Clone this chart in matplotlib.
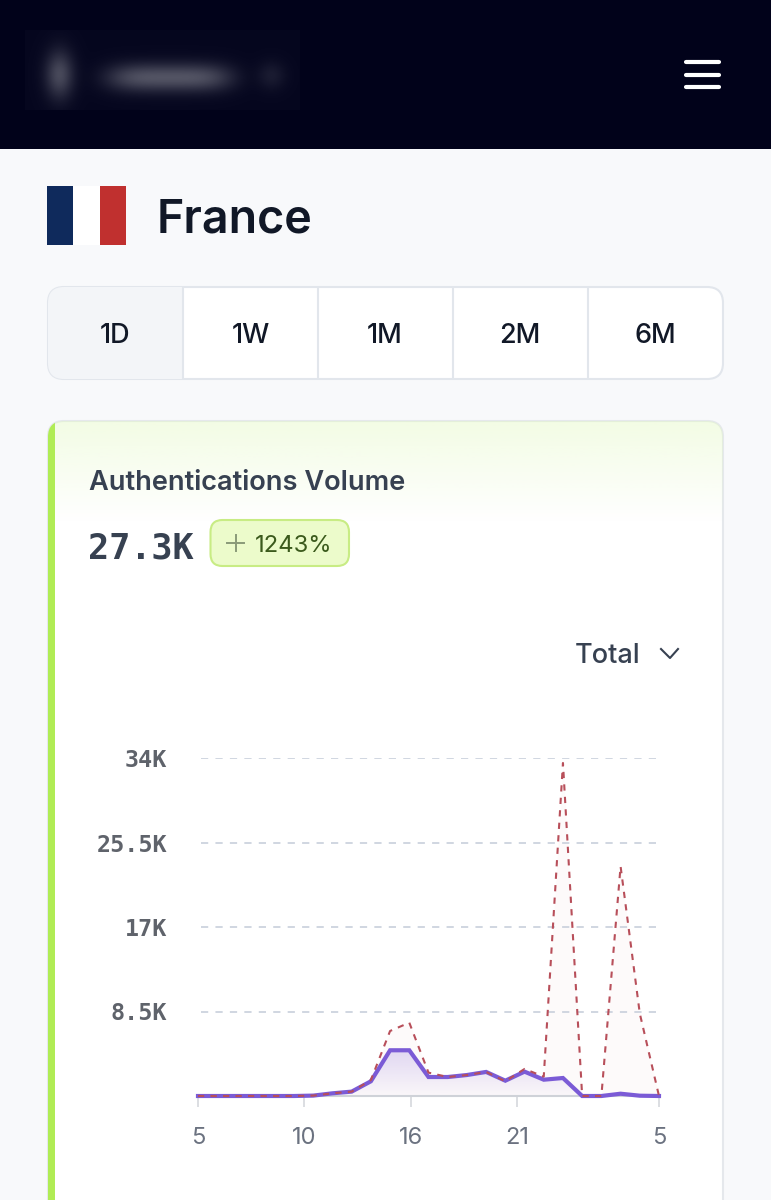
import numpy as np
import matplotlib
matplotlib.use('Agg')
import matplotlib.pyplot as plt
from matplotlib.patches import FancyBboxPatch, Rectangle

plt.rcParams['font.family'] = ['Inter', 'DejaVu Sans']

# values, one point per hour
authentications = [0, 0, 0, 0, 0, 0, 40, 270, 440, 1480, 4600, 4600, 1910, 1910, 2110, 2420,
                   1540, 2450, 1640, 1810, 0, 0, 230, 30, 0]
previous = [0, 0, 0, 0, 0, 0, 40, 270, 440, 1600, 6540, 7380, 2350, 1910, 2110, 2420,
            1480, 2720, 1950, 33500, 0, 0, 23100, 8300, 0]
y_ticks = [8500, 17000, 25500, 34000]
y_labels = ['8.5K', '17K', '25.5K', '34K']
x_ticks = [0, 5.54, 11.08, 16.62, 24]
x_labels = ['5', '10', '16', '21', '5']
tabs = ['1D', '1W', '1M', '2M', '6M']

W, H = 771, 1200
fig = plt.figure(figsize=(W / 100, H / 100), dpi=100, facecolor='#f8f9fb')

# page furniture in pixel coordinates
bg = fig.add_axes([0, 0, 1, 1])
bg.set_xlim(0, W)
bg.set_ylim(H, 0)
bg.axis('off')

bg.add_patch(Rectangle((0, 0), W, 149, fc='#01021a', ec='none'))

# blurred logo
yy, xx = np.mgrid[30:110, 25:300]
blur = (0.022
        + 0.26 * np.exp(-((xx - 59) / 14.0) ** 2 - ((yy - 74) / 24.0) ** 2)
        + 0.30 * np.exp(-(np.abs(xx - 169) / 62.0) ** 4 - ((yy - 77) / 14.0) ** 2)
        + 0.08 * np.exp(-((xx - 271) / 14.0) ** 2 - ((yy - 75) / 14.0) ** 2))
logo = np.ones(blur.shape + (4,))
logo[..., 3] = blur
bg.imshow(logo, extent=(25, 300, 110, 30), aspect='auto', zorder=2)
bg.set_xlim(0, W)
bg.set_ylim(H, 0)

for y in [62, 75, 87]:
    bg.plot([686, 719], [y, y], color='white', lw=3, solid_capstyle='round')

# flag and title
bg.add_patch(Rectangle((47, 185.5), 26, 59.5, fc='#0f2a5c', ec='none'))
bg.add_patch(Rectangle((73, 185.5), 27, 59.5, fc='white', ec='none'))
bg.add_patch(Rectangle((100, 185.5), 26, 59.5, fc='#c0302f', ec='none'))
bg.text(157, 215.5, 'France', fontsize=33.6, fontweight='semibold', color='#111827', va='center_baseline')

# range tabs
box = FancyBboxPatch((48, 287), 675, 92, boxstyle='round,pad=0,rounding_size=16',
                     fc='white', ec='#e2e6ec', lw=1.5, zorder=3)
bg.add_patch(box)
first = Rectangle((48, 287), 135, 92, fc='#f3f5f8', ec='none', zorder=3.1)
first.set_clip_path(box)
bg.add_patch(first)
for x in [183, 318, 453, 588]:
    bg.plot([x, x], [288, 378], color='#e2e6ec', lw=1.5, zorder=3.2)
for x, t in zip([115.5, 250.5, 385, 520, 655], tabs):
    bg.text(x, 333, t, fontsize=19.5, fontweight='medium', color='#111827',
            ha='center', va='center_baseline', zorder=4)

# card
card = FancyBboxPatch((48, 421), 675, 900, boxstyle='round,pad=0,rounding_size=16',
                      fc='white', ec='#e5e8ec', lw=1.5, zorder=1)
bg.add_patch(card)
fade = np.ones((100, 1, 4))
fade[..., :3] = matplotlib.colors.to_rgb('#e4f9c4')
fade[:, 0, 3] = np.linspace(0.45, 0, 100)
im = bg.imshow(fade, extent=(48, 723, 522, 421), aspect='auto', zorder=1.5)
im.set_clip_path(card)
bar = Rectangle((48, 421), 7, 800, fc='#b0ec55', ec='none', zorder=2)
bar.set_clip_path(card)
bg.add_patch(bar)
bg.set_xlim(0, W)
bg.set_ylim(H, 0)

bg.text(89, 480, 'Authentications Volume', fontsize=19.6, fontweight='semibold',
        color='#374151', va='center_baseline', zorder=3)
bg.text(88.5, 545, '27.3K', fontsize=25.3, fontweight='bold', family='DejaVu Sans Mono',
        color='#374151', va='center_baseline', zorder=3)
bg.add_patch(FancyBboxPatch((210.5, 520), 138.5, 46, boxstyle='round,pad=0,rounding_size=12',
                            fc='#ecfbcb', ec='#c8ec84', lw=1.5, zorder=3))
bg.plot([227, 244], [543, 543], color='#8a9a78', lw=1.4, zorder=4)
bg.plot([235.5, 235.5], [535, 551], color='#8a9a78', lw=1.4, zorder=4)
bg.text(254.5, 543, '1243%', fontsize=17.2, color='#3b5a1c', va='center_baseline', zorder=4)

bg.text(575, 653, 'Total', fontsize=19.5, fontweight='medium', color='#374151', va='center_baseline', zorder=3)
bg.plot([661, 670, 678], [649, 658, 649], color='#374151', lw=1.5, zorder=3)

# chart
ax = fig.add_axes([198 / W, 1 - 1096 / H, (659 - 198) / W, (1096 - 758) / H])
ax.patch.set_alpha(0)
x = np.arange(len(authentications))
ax.set_xlim(0, 24)
ax.set_ylim(0, 34000)

ax.fill_between(x, previous, color='#c0474f', alpha=0.025, lw=0, zorder=1)

poly = ax.fill_between(x, authentications, color='none', lw=0)
shade = np.ones((100, 1, 4))
shade[..., :3] = matplotlib.colors.to_rgb('#7b5bd6')
shade[:, 0, 3] = np.linspace(0.22, 0.02, 100)
img = ax.imshow(shade, extent=(0, 24, 0, max(authentications)), aspect='auto', zorder=1.5)
img.set_clip_path(poly.get_paths()[0], transform=ax.transData)
ax.set_xlim(0, 24)
ax.set_ylim(0, 34000)

ax.hlines(y_ticks, 0.15, 23.85, color='#cdd3de', lw=1.3, linestyles=(0, (4, 4)), zorder=1)
ax.plot(x, authentications, color='#7b5bd6', lw=3, solid_joinstyle='miter', clip_on=False, zorder=3)
ax.plot(x, previous, color='#b84f5a', lw=1.5, linestyle=(0, (3, 3)), clip_on=False, zorder=4)

for s in ['top', 'right', 'left']:
    ax.spines[s].set_visible(False)
ax.spines['bottom'].set_color('#cfd2d8')
ax.spines['bottom'].set_linewidth(1.5)

ax.set_yticks(y_ticks)
ax.set_yticklabels(y_labels, family='DejaVu Sans Mono', fontweight='bold', fontsize=16.8, color='#5f636b')
ax.tick_params(axis='y', length=0, pad=22)
ax.set_xticks(x_ticks)
ax.set_xticklabels(x_labels, fontsize=17, color='#6b7280')
ax.tick_params(axis='x', length=8, width=1.2, color='#d5d8dd', pad=14)

fig.savefig('out.png', dpi=100, facecolor=fig.get_facecolor())
